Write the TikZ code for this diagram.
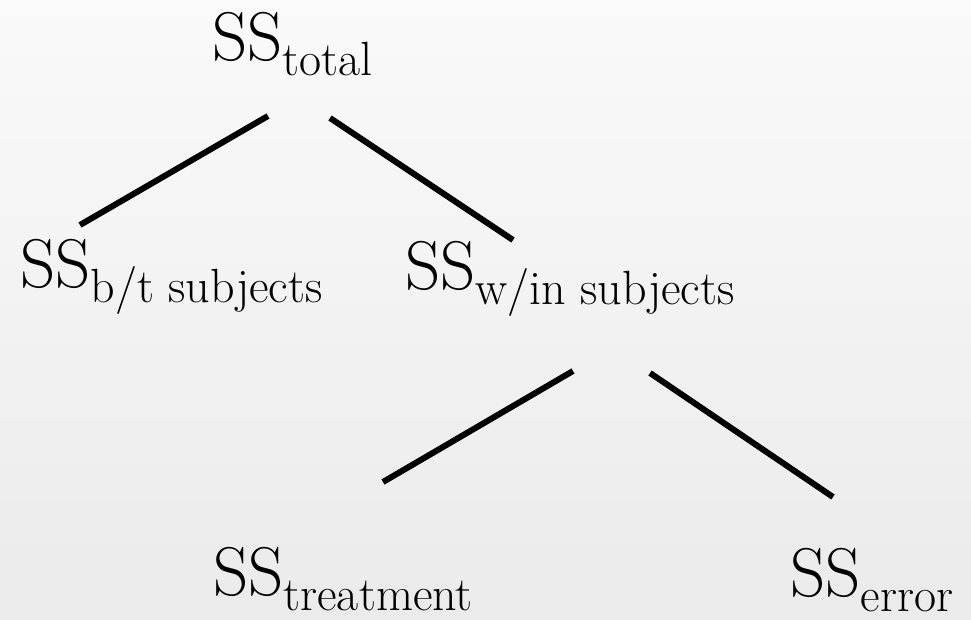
\documentclass[tikz,border=0pt]{standalone}
\usepackage{fontspec}
\setmainfont{Latin Modern Roman}
\newcommand\sssub[1]{\raisebox{-15pt}{\fontsize{48}{52}\selectfont #1}}
\tikzset{
  lbl/.style={anchor=base west, inner sep=0pt, outer sep=0pt, font=\fontsize{69}{80}\selectfont},
  conn/.style={line width=6pt, line cap=butt, black}
}
\begin{document}
\begin{tikzpicture}[x=1pt,y=-1pt]
\useasboundingbox (0,0) rectangle (971,619);
\fill[top color=black!2, bottom color=black!8, draw=none] (0,0) rectangle (971,619);

\node[lbl] (total) at (212,60) {SS\sssub{total}};
\node[lbl] (bt) at (20,287) {SS\sssub{b/t subjects}};
\node[lbl] (win) at (405,289) {SS\sssub{w/in subjects}};
\node[lbl] (treat) at (213,595) {SS\sssub{treatment}};
\node[lbl] (err) at (790,596) {SS\sssub{error}};

\coordinate (totalL) at (268,116);
\coordinate (btT) at (80,225);
\coordinate (totalR) at (330,118);
\coordinate (winT) at (513,240);
\coordinate (winL) at (573,371);
\coordinate (treatT) at (383,482);
\coordinate (winR) at (650,373);
\coordinate (errT) at (833,497);

\draw[conn] (totalL) -- (btT);
\draw[conn] (totalR) -- (winT);
\draw[conn] (winL) -- (treatT);
\draw[conn] (winR) -- (errT);
\end{tikzpicture}
\end{document}
